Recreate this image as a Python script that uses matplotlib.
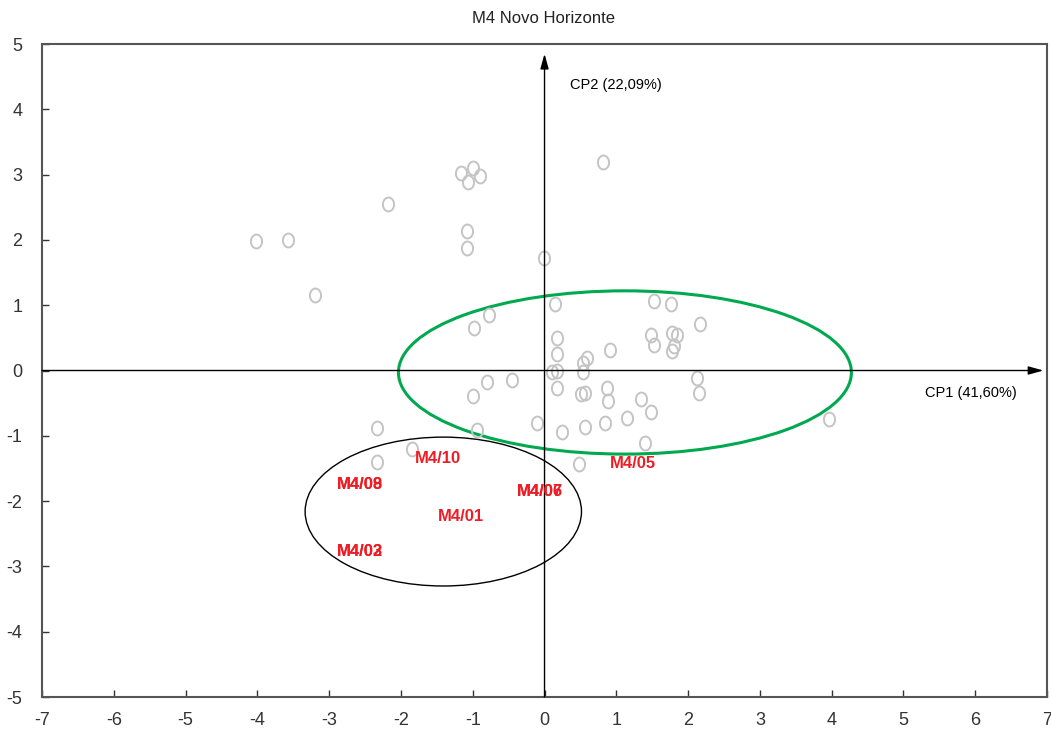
import numpy as np
import matplotlib.pyplot as plt
from matplotlib.patches import Ellipse
from matplotlib.path import Path

# Scores (CP1, CP2)
cp1 = [-4.02, -3.58, -3.20, -2.18, -1.16, -1.00, -0.90, -1.06, -1.08, -1.08,
       -0.01, 0.81, -0.78, -0.98, 0.14, 1.52, 1.76, 2.17, 0.18, 1.49,
       1.78, 1.84, 1.52, 1.80, 1.78, 0.91, 0.18, 0.59, 0.54, 0.11,
       0.18, 0.54, -0.80, -0.45, 2.12, 2.15, 0.18, 0.51, 0.56, 0.87,
       0.89, -1.00, 1.34, 1.15, 1.49, 0.84, 0.56, 0.24, -0.10, -0.94,
       3.96, 1.40, 0.48, -1.85, -2.33, -2.33]
cp2 = [1.98, 2.00, 1.15, 2.55, 3.02, 3.10, 2.98, 2.89, 2.13, 1.87,
       1.72, 3.19, 0.85, 0.65, 1.02, 1.07, 1.02, 0.71, 0.50, 0.54,
       0.57, 0.54, 0.39, 0.38, 0.30, 0.31, 0.25, 0.19, 0.11, -0.02,
       0.00, -0.03, -0.17, -0.14, -0.11, -0.35, -0.27, -0.36, -0.34, -0.27,
       -0.47, -0.39, -0.44, -0.72, -0.64, -0.81, -0.86, -0.94, -0.81, -0.91,
       -0.74, -1.11, -1.43, -1.20, -0.88, -1.40]

# Labelled samples
lab_names = ["M4/10", "M4/09", "M4/08", "M4/07", "M4/06", "M4/01", "M4/03", "M4/02", "M4/05"]
lab_x = [-1.48, -2.57, -2.57, -0.06, -0.06, -1.17, -2.57, -2.57, 1.23]
lab_y = [-1.34, -1.74, -1.74, -1.86, -1.86, -2.24, -2.77, -2.77, -1.42]

# Ellipses (center x, center y, width, height)
green_ell = (1.12, -0.03, 6.31, 2.50)
black_ell = (-1.41, -2.16, 3.85, 2.28)

plt.rcParams['font.family'] = ['Liberation Sans Narrow', 'Liberation Sans', 'DejaVu Sans']
plt.rcParams['axes.unicode_minus'] = False

fig = plt.figure(figsize=(10.51, 7.31), dpi=100)
ax = fig.add_axes([0.04, 0.0465, 0.9562, 0.8933])

# letter-o shaped marker (taller than wide)
t = np.linspace(0, 2 * np.pi, 60)
o_marker = Path(np.column_stack([0.8 * np.cos(t), np.sin(t)]))
ax.plot(cp1, cp2, linestyle='none', marker=o_marker, markersize=10,
        markerfacecolor='none', markeredgecolor='#c4c4c4', markeredgewidth=1.4, zorder=3)

for name, x, y in zip(lab_names, lab_x, lab_y):
    ax.text(x, y, name, color='#ee1c24', fontsize=12, fontweight='bold',
            family=['Liberation Sans', 'DejaVu Sans'], ha='center', va='center', zorder=4)

ax.add_patch(Ellipse(green_ell[:2], green_ell[2], green_ell[3], fill=False,
                     edgecolor='#00a94f', linewidth=2.2, zorder=2))
ax.add_patch(Ellipse(black_ell[:2], black_ell[2], black_ell[3], fill=False,
                     edgecolor='black', linewidth=1.0, zorder=2))

# principal component axes with arrows
arrow = dict(arrowstyle='-|>,head_length=0.9,head_width=0.25', color='black', lw=1.0,
             shrinkA=0, shrinkB=0)
ax.annotate('', xy=(6.95, 0), xytext=(-7, 0), arrowprops=arrow)
ax.annotate('', xy=(0, 4.85), xytext=(0, -5), arrowprops=arrow)
ax.text(5.3, -0.35, 'CP1 (41,60%)', fontsize=10.5, family=['Liberation Sans', 'DejaVu Sans'],
        ha='left', va='center')
ax.text(0.35, 4.37, 'CP2 (22,09%)', fontsize=10.5, family=['Liberation Sans', 'DejaVu Sans'],
        ha='left', va='center')

ax.set_xlim(-7, 7)
ax.set_ylim(-5, 5)
ax.set_xticks(range(-7, 8))
ax.set_yticks(range(-5, 6))
ax.tick_params(direction='in', length=5, width=1, labelsize=13, colors='#333333')
ax.tick_params(axis='x', pad=11)
ax.tick_params(axis='y', pad=14)
for s in ax.spines.values():
    s.set_color('#555555')
    s.set_linewidth(1.5)

fig.text(0.517, 0.975, 'M4 Novo Horizonte', ha='center', va='center', fontsize=12, color='#222222')

fig.savefig('out.png', dpi=100)
